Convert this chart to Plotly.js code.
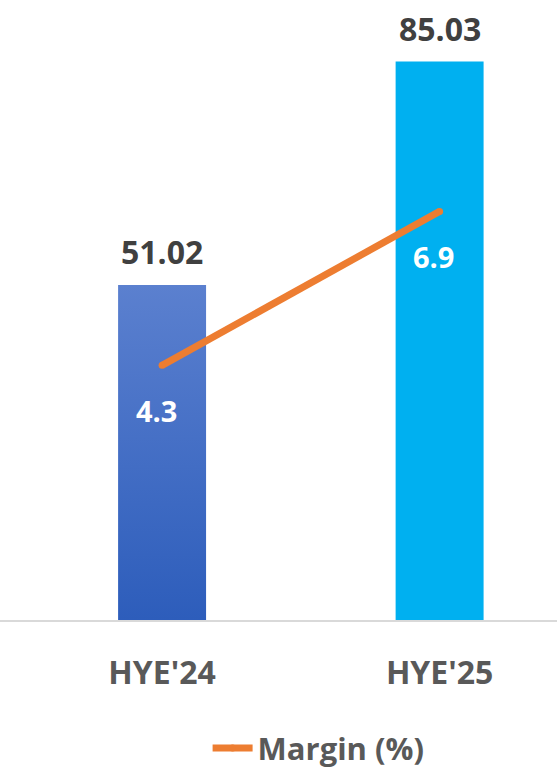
<!DOCTYPE html>
<html>
<head>
<meta charset="utf-8">
<script src="https://cdn.plot.ly/plotly-3.0.1.min.js"></script>
<style>html,body{margin:0;padding:0;background:#fff;}#chart{width:557px;height:772px;}</style>
</head>
<body>
<div id="chart"></div>
<script>
const categories = ["HYE'24", "HYE'25"];
const revenue = [51.02, 85.03];
const revenueLabels = ["51.02", "85.03"];
const margin = [4.3, 6.9];
const marginLabels = ["4.3", "6.9"];
const barColors = ["#4472C4", "#00B0F0"];

const FONT = "Open Sans, Lato, sans-serif";

const traces = [
  {
    type: 'bar', x: categories, y: revenue, width: 0.317,
    marker: {color: barColors, line: {width: 0}},
    hoverinfo: 'skip', showlegend: false
  },
  {
    type: 'scatter', mode: 'lines+markers', x: categories, y: margin, yaxis: 'y2',
    name: 'Margin (%)',
    line: {color: '#ED7D31', width: 7},
    marker: {color: '#ED7D31', size: 7},
    hoverinfo: 'skip'
  }
];

const annotations = [];
categories.forEach((c, i) => {
  annotations.push({x: c, y: revenue[i], xref: 'x', yref: 'y', text: revenueLabels[i],
    showarrow: false, yanchor: 'middle', yshift: 33,
    font: {family: FONT, size: 32, color: '#404040', weight: 'bold'}});
  annotations.push({x: c, y: margin[i], xref: 'x', yref: 'y2', text: marginLabels[i],
    showarrow: false, yanchor: 'middle', yshift: -45, xshift: -6,
    font: {family: FONT, size: 29, color: '#FFFFFF', weight: 'bold'}});
});

const layout = {
  width: 557, height: 772,
  margin: {l: 0, r: 0, t: 0, b: 152, autoexpand: false},
  paper_bgcolor: '#fff', plot_bgcolor: '#fff',
  xaxis: {range: [-0.584, 1.423], showline: true, linecolor: '#D9D9D9', linewidth: 2,
    ticks: '', ticklabelstandoff: 24, showgrid: false, zeroline: false, fixedrange: true, automargin: false,
    tickfont: {family: FONT, size: 32, color: '#595959', weight: 'bold'}},
  yaxis: {range: [0, 94.4], visible: false, showgrid: false, zeroline: false},
  yaxis2: {range: [0, 10.47], overlaying: 'y', side: 'right', visible: false, showgrid: false, zeroline: false},
  showlegend: true,
  legend: {orientation: 'h', x: 0.572, xanchor: 'center', y: -0.207, yanchor: 'middle',
    font: {family: FONT, size: 31, color: '#595959', weight: 'bold'}, itemwidth: 40},
  annotations: annotations
};

Plotly.newPlot('chart', traces, layout, {displayModeBar: false, staticPlot: true}).then(() => {
  const svg = document.querySelector('#chart .main-svg');
  let defs = svg.querySelector('defs');
  const ns = 'http://www.w3.org/2000/svg';
  const g = document.createElementNS(ns, 'linearGradient');
  g.setAttribute('id', 'bar1grad');
  g.setAttribute('x1', '0'); g.setAttribute('y1', '0'); g.setAttribute('x2', '0'); g.setAttribute('y2', '1');
  [['0', '#5B80CF'], ['1', '#2D5DBB']].forEach(([o, c]) => {
    const s = document.createElementNS(ns, 'stop');
    s.setAttribute('offset', o); s.setAttribute('stop-color', c);
    g.appendChild(s);
  });
  defs.appendChild(g);
  const p = document.querySelector('#chart .barlayer .trace .point path');
  if (p) p.style.fill = 'url(#bar1grad)';
});
</script>
</body>
</html>
